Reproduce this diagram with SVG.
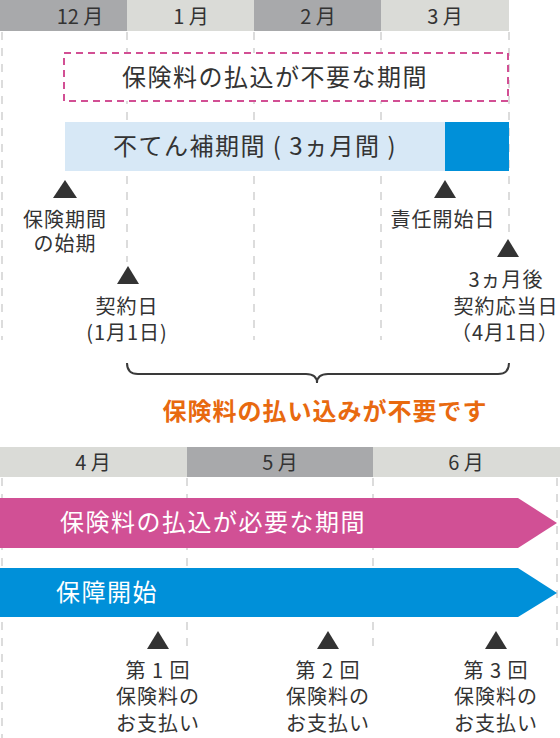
<svg xmlns="http://www.w3.org/2000/svg" width="560" height="738" viewBox="0 0 560 738">
<style>
text{font-family:"Noto Sans CJK JP","Noto Sans",sans-serif;fill:#333}
.hd{font-size:20px;text-anchor:middle}
.lb{font-size:20px;text-anchor:middle;letter-spacing:1px}
.big{font-size:24px;text-anchor:middle;letter-spacing:1.5px}
.wt{font-size:24px;fill:#fff;letter-spacing:1.5px}
.dl{stroke:#dcdcdc;stroke-width:2;stroke-dasharray:8 8;fill:none}
.tri{fill:#333}
</style>
<g id="header-top">
<rect x="0" y="0" width="127" height="31" fill="#a8a9ab"/>
<rect x="127" y="0" width="127" height="31" fill="#dadbd7"/>
<rect x="254" y="0" width="127" height="31" fill="#a8a9ab"/>
<rect x="381" y="0" width="128" height="31" fill="#dadbd7"/>
<text class="hd" x="80" y="24">12 月</text>
<text class="hd" x="191" y="24">1 月</text>
<text class="hd" x="318" y="24">2 月</text>
<text class="hd" x="445" y="24">3 月</text>
</g>
<g id="connectors">
<line class="dl" x1="2" y1="32" x2="2" y2="340"/>
<line class="dl" x1="127" y1="32" x2="127" y2="262"/>
<line class="dl" x1="254" y1="32" x2="254" y2="340"/>
<line class="dl" x1="381" y1="32" x2="381" y2="340"/>
<line class="dl" x1="509" y1="32" x2="509" y2="232"/>
<line class="dl" x1="2" y1="478" x2="2" y2="738"/>
<line class="dl" x1="187" y1="478" x2="187" y2="648"/>
<line class="dl" x1="373" y1="478" x2="373" y2="648"/>
<line class="dl" x1="557" y1="478" x2="557" y2="648"/>
<path d="M127,363 Q127,374 138,374 L306,374 Q317,374 317,383 Q317,374 328,374 L498,374 Q509,374 509,363" fill="none" stroke="#3a3a3a" stroke-width="2"/>
</g>
<g id="no-payment-period">
<rect x="64" y="53" width="444" height="48" fill="#fff" stroke="#d24f94" stroke-width="2" stroke-dasharray="7 5"/>
<text class="big" x="275" y="86">保険料の払込が不要な期間</text>
</g>
<g id="waiting-period">
<rect x="65" y="122" width="380" height="49" fill="#d7e8f6"/>
<rect x="445" y="122" width="64" height="49" fill="#0090d9"/>
<text class="big" x="255" y="155">不てん補期間 ( 3ヵ月間 )</text>
</g>
<g id="start-of-term">
<polygon class="tri" points="65,180 53,198 77,198"/>
<text class="lb" x="65" y="227">保険期間</text>
<text class="lb" x="65" y="251">の始期</text>
</g>
<g id="contract-date">
<polygon class="tri" points="128,266 117,284 139,284"/>
<text class="lb" x="127" y="314">契約日</text>
<text class="lb" x="127" y="340">(1月1日)</text>
</g>
<g id="liability-start">
<polygon class="tri" points="445,180 434,198 456,198"/>
<text class="lb" x="443" y="227">責任開始日</text>
</g>
<g id="anniversary">
<polygon class="tri" points="508,239 497,257 519,257"/>
<text class="lb" x="506" y="287">3ヵ月後</text>
<text class="lb" x="506" y="314">契約応当日</text>
<text class="lb" x="505" y="340">（4月1日）</text>
</g>
<g id="no-payment-note">
<text x="325" y="420" style="font-size:24px;font-weight:bold;fill:#e8690f;text-anchor:middle;letter-spacing:1px">保険料の払い込みが不要です</text>
</g>
<g id="header-bottom">
<rect x="0" y="447" width="187" height="30" fill="#dadbd7"/>
<rect x="187" y="447" width="186" height="30" fill="#a8a9ab"/>
<rect x="373" y="447" width="187" height="30" fill="#dadbd7"/>
<text class="hd" x="93" y="470">4 月</text>
<text class="hd" x="280" y="470">5 月</text>
<text class="hd" x="466" y="470">6 月</text>
</g>
<g id="payment-period">
<polygon points="0,498 518,498 557,523 518,548 0,548" fill="#d15095"/>
<text class="wt" x="60" y="531">保険料の払込が必要な期間</text>
</g>
<g id="coverage-start">
<polygon points="0,568 518,568 557,593 518,617 0,617" fill="#0090d9"/>
<text class="wt" x="56" y="601">保障開始</text>
</g>
<g id="payment-1">
<polygon class="tri" points="158,631 147,649 169,649"/>
<text class="lb" x="158" y="678">第 1 回</text>
<text class="lb" x="158" y="704">保険料の</text>
<text class="lb" x="158" y="731">お支払い</text>
</g>
<g id="payment-2">
<polygon class="tri" points="328,631 317,649 339,649"/>
<text class="lb" x="328" y="678">第 2 回</text>
<text class="lb" x="328" y="704">保険料の</text>
<text class="lb" x="328" y="731">お支払い</text>
</g>
<g id="payment-3">
<polygon class="tri" points="496,631 485,649 507,649"/>
<text class="lb" x="496" y="678">第 3 回</text>
<text class="lb" x="496" y="704">保険料の</text>
<text class="lb" x="496" y="731">お支払い</text>
</g>
</svg>
